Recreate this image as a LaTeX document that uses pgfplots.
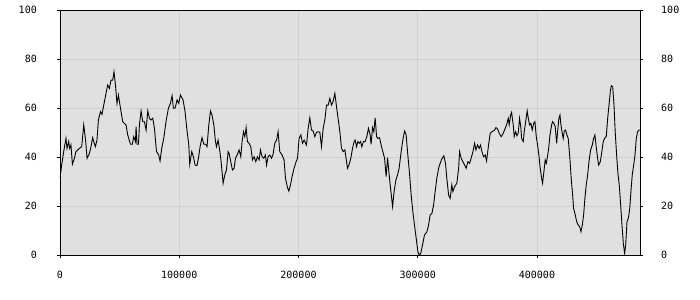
\documentclass[border=0pt]{standalone}
\usepackage{fontspec}
\setmainfont{DejaVu Sans Mono}
\usepackage{pgfplots}
\usepackage{pgfplotstable}
\pgfplotsset{compat=1.18}
\definecolor{bg}{HTML}{E0E0E0}
\definecolor{gridc}{HTML}{D0D0D0}
\pgfplotstableread{
x y
0 31.3
1400 36.7
3100 42.2
5000 47.6
5900 43.5
7300 46.3
8100 43.5
9200 44.9
10400 37.0
12100 39.5
13400 42.2
14900 42.9
16300 43.5
18200 44.2
19900 53.1
21300 47.6
22700 39.5
24700 41.5
26000 44.2
27400 47.9
28300 46.3
29700 44.2
31000 46.9
32200 55.1
33900 58.5
35200 57.4
36700 61.2
38600 66.0
40000 69.4
41400 68.0
42800 71.4
44200 71.4
45300 74.8
46500 69.4
47800 61.9
49000 65.3
50300 61.2
51200 58.5
52600 54.4
54000 53.7
55400 53.1
56800 49.0
59100 45.2
60700 45.2
61800 48.3
63300 46.3
63800 52.4
64600 45.2
65800 45.2
66600 53.1
68000 58.8
69400 54.4
70800 54.4
72200 51.0
73600 58.8
75000 55.8
76300 55.1
77800 55.8
79200 51.7
80900 42.2
82800 40.8
83900 38.4
85300 43.5
87000 47.6
88900 54.4
90900 59.9
92600 61.9
94000 65.0
95100 59.9
96500 59.9
98200 63.3
99600 61.9
101000 65.3
103200 63.3
104900 58.5
106300 51.7
108000 44.9
108800 37.0
110500 42.2
111900 40.1
113300 36.7
114900 36.5
116100 39.5
117500 44.2
119100 47.9
120600 45.2
122200 45.2
123300 44.2
124800 53.1
126200 58.8
127500 57.1
129000 53.1
130400 46.3
131200 44.2
132600 46.9
133700 43.5
134800 39.5
135900 34.0
136800 29.3
138200 32.7
139600 34.7
141000 42.2
141800 41.5
143200 38.1
144600 34.7
146000 35.4
147200 39.5
148500 40.8
150200 42.9
151600 40.1
152700 46.3
153900 50.3
155000 48.3
156100 52.0
157200 46.3
158600 45.6
160000 44.2
161400 38.8
162800 40.1
164200 38.1
165600 40.1
167000 38.8
168100 42.9
169500 40.1
170900 39.5
172300 40.8
173200 36.7
174500 40.1
175900 40.8
177400 39.5
178700 41.1
180100 45.6
181600 46.9
182900 50.3
184300 42.2
186300 40.8
187900 38.8
189100 31.3
190800 27.5
191900 26.1
193300 28.6
194600 32.0
196300 35.4
198000 38.1
199200 39.5
200500 47.6
202000 49.0
203400 45.6
204700 46.9
206700 44.9
208100 51.7
209500 56.0
210900 51.0
212300 50.6
213700 48.3
215100 50.1
216500 50.3
217900 50.1
219300 44.2
220700 51.7
222100 55.1
223500 61.2
224900 61.2
226300 63.9
227700 61.2
229000 62.6
230500 66.0
231900 60.5
233200 55.8
234700 50.3
236100 43.5
237400 42.2
238900 42.9
240300 38.1
241100 35.4
242500 37.0
243900 39.5
245300 43.5
246700 46.3
247500 46.9
248700 44.2
249800 46.3
250900 45.6
252000 46.3
253100 44.2
254500 46.3
255900 46.3
257300 48.3
258700 51.7
260100 49.0
260900 45.2
262100 52.0
263200 50.3
264300 56.0
265500 48.3
266600 47.6
268000 47.9
269300 44.9
270700 42.2
272200 39.5
273500 32.0
274700 39.7
275800 34.0
276900 28.6
278000 23.8
278900 19.7
280200 25.9
281700 30.6
283100 32.7
284400 35.4
286100 42.2
287500 46.9
289000 50.6
290300 49.0
291700 40.8
293200 32.7
294500 24.5
295900 17.7
297300 12.2
298700 6.8
300100 1.4
301200 0
302600 0.7
304000 4.1
305700 8.2
307700 9.5
309100 12.2
310400 16.3
311900 17.0
313300 20.4
314600 25.9
316000 31.3
317500 35.4
318800 37.4
320200 39.2
321900 40.5
323300 37.4
324400 31.3
325900 24.5
327200 23.1
328600 28.6
329500 25.9
330900 27.9
332800 29.3
334300 35.4
335100 42.2
336400 39.5
337900 38.1
339300 36.7
340600 35.4
342100 38.1
343500 37.4
344800 39.5
346300 42.2
347700 45.6
348800 42.9
350200 44.9
351500 43.5
352700 44.9
353800 42.2
355200 40.1
356600 40.8
357700 38.4
359400 44.9
360800 49.7
362200 50.3
364500 51.0
365600 52.0
367000 51.4
368300 49.7
370000 48.3
371700 49.7
373100 51.4
374500 53.1
375900 55.8
376700 53.1
377900 57.1
378700 58.2
380100 53.1
380900 48.3
382100 50.3
383200 48.7
384300 49.7
385400 55.8
386500 52.0
387100 47.6
388500 46.3
389300 50.3
390500 54.4
391800 58.8
392700 55.8
393800 53.1
394900 53.7
396000 51.0
397200 53.7
398300 54.4
399400 48.3
400500 44.9
401600 40.8
402700 35.4
403900 31.3
404700 29.3
405800 34.0
406900 38.8
407800 37.4
408600 39.5
409800 43.5
410900 49.0
412300 53.1
413100 54.4
414200 53.7
415300 52.4
416500 45.6
417300 50.3
418400 55.8
419300 57.1
420100 53.1
421200 49.7
422000 47.6
422900 50.6
424000 51.0
425100 49.0
426200 47.6
427600 39.5
428700 31.3
429900 24.5
430700 19.0
431800 17.0
433300 13.6
434600 12.2
435800 11.6
436900 9.5
438000 12.2
439100 16.3
440200 23.1
441300 28.6
442500 32.7
443600 38.1
445000 42.9
446400 44.9
447500 47.6
448600 49.0
449500 44.9
450500 40.8
451700 36.7
453100 38.1
454200 41.5
455600 46.3
457000 47.9
458100 48.3
459300 55.8
460400 61.2
461500 66.7
462300 69.1
463500 68.7
464600 61.2
465600 50.3
466800 40.8
467900 33.3
469000 28.6
470200 20.4
471300 12.2
472400 4.8
473500 0.7
474400 4.1
475500 13.6
476600 15.0
477700 18.4
478800 25.9
479900 32.7
481100 36.7
482200 40.8
483300 47.6
484400 50.3
485500 51.0
486300 51.0
}\series
\begin{document}
\begin{tikzpicture}
\useasboundingbox (-60bp,-45bp) rectangle (640bp,255bp);
\begin{axis}[
  at={(0,0)}, anchor=south west,
  scale only axis, width=580bp, height=245bp,
  xmin=0, xmax=486400, ymin=0, ymax=100,
  axis background/.style={fill=bg},
  grid=major, major grid style={gridc, line width=0.8bp},
  xtick={0,100000,200000,300000,400000},
  ytick={0,20,40,60,80,100},
  scaled x ticks=false,
  /pgf/number format/.cd, fixed, 1000 sep={}, assume math mode=true, /pgfplots/.cd,
  tick align=outside, major tick length=3bp,
  xtick pos=left, ytick pos=left,
  tick style={black, line width=0.8bp},
  axis line style={black, line width=0.8bp},
  ticklabel style={font=\fontsize{10bp}{12bp}\selectfont, inner sep=0pt},
  yticklabel style={xshift=-20bp},
  xticklabel style={yshift=-12.7bp},
]
\addplot[black, line width=0.9bp] table[x=x, y=y] {\series};
\end{axis}
\begin{axis}[
  at={(0,0)}, anchor=south west,
  scale only axis, width=580bp, height=245bp,
  xmin=0, xmax=1, ymin=0, ymax=100,
  axis x line=none, axis y line*=right,
  ytick={0,20,40,60,80,100},
  /pgf/number format/assume math mode=true,
  tick align=outside, major tick length=3bp,
  tick style={black, line width=0.8bp},
  axis line style={black, line width=0.8bp},
  ticklabel style={font=\fontsize{10bp}{12bp}\selectfont, inner sep=0pt},
  yticklabel style={xshift=18bp},
]
\end{axis}
\end{tikzpicture}
\end{document}
